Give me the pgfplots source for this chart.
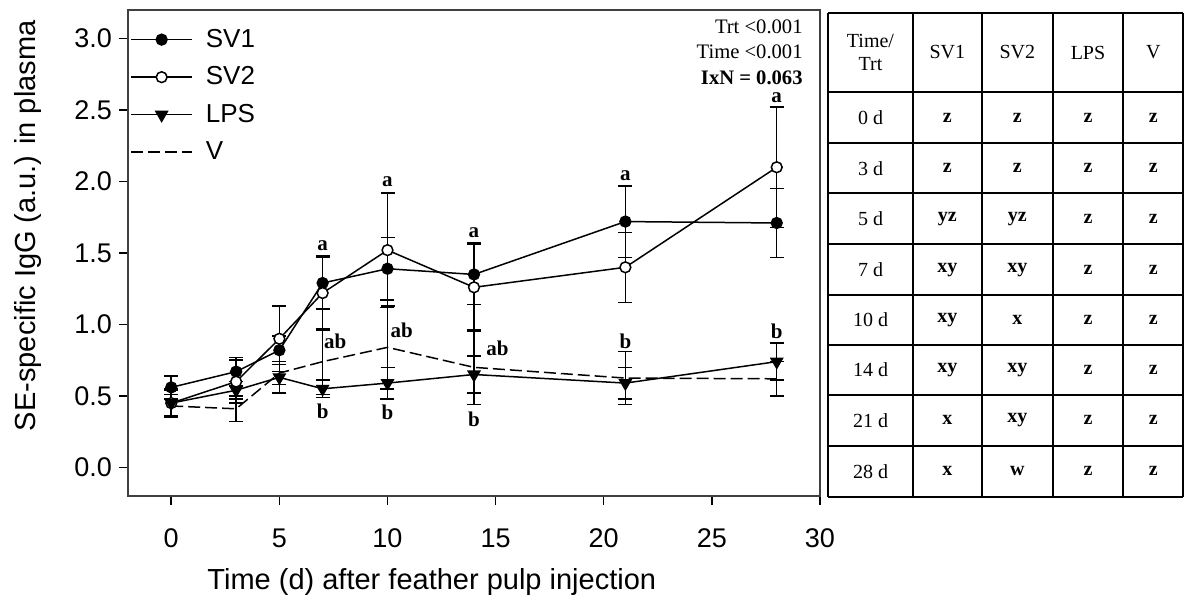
\documentclass[border=0pt]{standalone}
\usepackage{pgfplots}
\pgfplotsset{compat=1.18}
\usepackage{fontspec}
\setmainfont{Liberation Sans}
\newfontfamily\serif{Liberation Serif}
\begin{document}
\begin{tikzpicture}
\useasboundingbox (0,0) rectangle (592pt,-302.5pt);
\begin{axis}[
  at={(64pt,-248pt)}, anchor=south west,
  width=346pt, height=243pt, scale only axis,
  xmin=-2, xmax=30, ymin=-0.2, ymax=3.2,
  xtick={0,5,...,30}, ytick={0,0.5,...,3},
  tick align=outside, xtick pos=left, ytick pos=left,
  major tick length=4.5pt,
  tick style={line width=0.75pt, black},
  axis line style={line width=0.75pt, black!75},
  /pgf/number format/assume math mode=true,
  yticklabel style={/pgf/number format/.cd, fixed, fixed zerofill, precision=1, /tikz/.cd, font=\fontsize{13.5}{15}\selectfont},
  xticklabel style={font=\fontsize{13.5}{15}\selectfont, yshift=-8.5pt},
  xlabel={Time (d) after feather pulp injection},
  xlabel style={at={(axis description cs:0.439,-0.177)}, anchor=center, font=\fontsize{14.5}{16}\selectfont},
  ylabel={SE-specific IgG (a.u.) in plasma},
  ylabel style={at={(axis description cs:-0.1445,0.556)}, anchor=center, font=\fontsize{14.5}{16}\selectfont},
  legend style={at={(axis description cs:0.0,0.974)}, anchor=north west, draw=none, fill=none,
    font=\fontsize{13}{14}\selectfont, row sep=4.2pt, column sep=0.5pt, inner sep=1pt,
    nodes={inner xsep=6pt}},
  legend cell align=left,
  legend image code/.code={\draw[mark repeat=2,mark phase=2] plot coordinates {(0pt,0pt) (15.25pt,0pt) (30.5pt,0pt)};},
  every axis plot/.append style={line width=0.75pt, black},
  error bars/error bar style={line width=0.75pt, solid, black},
  error bars/error mark options={rotate=90, mark size=3.5pt, line width=0.75pt, solid, black},
]
\addplot[mark=*, mark size=2.7pt, mark options={solid, fill=black},
  error bars/.cd, y dir=both, y explicit] coordinates {
  (0,0.56) +- (0,0.08)
  (3,0.67) +- (0,0.10)
  (5,0.82) +- (0,0.10)
  (7,1.29) +- (0,0.18)
  (10,1.39) +- (0,0.22)
  (14,1.35) +- (0,0.21)
  (21,1.72) +- (0,0.25)
  (28,1.71) +- (0,0.24)
};
\addlegendentry{SV1}
\addplot[mark=*, mark size=2.7pt, mark options={solid, fill=white},
  error bars/.cd, y dir=both, y explicit] coordinates {
  (0,0.45) +- (0,0.10)
  (3,0.60) +- (0,0.15)
  (5,0.90) +- (0,0.23)
  (7,1.22) +- (0,0.26)
  (10,1.52) +- (0,0.40)
  (14,1.26) +- (0,0.31)
  (21,1.40) +- (0,0.245)
  (28,2.10) +- (0,0.42)
};
\addlegendentry{SV2}
\addplot[mark=triangle*, mark size=3.3pt, mark options={solid, fill=black, rotate=180},
  error bars/.cd, y dir=both, y explicit] coordinates {
  (0,0.45) +- (0,0.09)
  (3,0.54) +- (0,0.06)
  (5,0.63) +- (0,0.11)
  (7,0.55) +- (0,0.06)
  (10,0.59) +- (0,0.11)
  (14,0.65) +- (0,0.13)
  (21,0.59) +- (0,0.11)
  (28,0.74) +- (0,0.13)
};
\addlegendentry{LPS}
\addplot[dash pattern=on 6pt off 2.5pt,
  error bars/.cd, y dir=both, y explicit] coordinates {
  (0,0.43) +- (0,0.08)
  (3,0.41) +- (0,0.09)
  (5,0.66) +- (0,0.08)
  (7,0.74) +- (0,0.23)
  (10,0.84) +- (0,0.29)
  (14,0.70) +- (0,0.26)
  (21,0.625) +- (0,0.185)
  (28,0.62) +- (0,0.12)
};
\addlegendentry{V}
\node[anchor=north east, align=right, inner sep=0pt, font=\serif\fontsize{10.3}{12.8}\selectfont]
  at (axis description cs:0.9754,0.981) {Trt <0.001\\Time <0.001\\\textbf{IxN = 0.063}};
\tikzset{lab/.style={font=\serif\bfseries\fontsize{10.5}{11}\selectfont, inner sep=0pt}}
\node[lab] at (axis cs:7,1.55) {a};
\node[lab] at (axis cs:10,2.0) {a};
\node[lab] at (axis cs:14,1.64) {a};
\node[lab] at (axis cs:21,2.04) {a};
\node[lab] at (axis cs:28,2.585) {a};
\node[lab] at (axis cs:7,0.39) {b};
\node[lab] at (axis cs:10,0.385) {b};
\node[lab] at (axis cs:14,0.34) {b};
\node[lab] at (axis cs:21,0.88) {b};
\node[lab] at (axis cs:28,0.95) {b};
\node[lab] at (axis cs:7.58,0.88) {ab};
\node[lab] at (axis cs:10.66,0.962) {ab};
\node[lab] at (axis cs:15.08,0.834) {ab};
\end{axis}
\begin{scope}[x=0.5pt, y=-0.5pt]
  \foreach \xx in {828.3,912.7,982,1052.7,1123.3,1183.3}
    \draw[line width=1.1pt] (\xx,13.3) -- (\xx,496.7);
  \foreach \yy in {13.3,91.7,143.3,193.3,244.3,295,345,395,445.7,496.7}
    \draw[line width=1.1pt] (828.3,\yy) -- (1183.3,\yy);
  \tikzset{th/.style={font=\serif\fontsize{10}{11.5}\selectfont, align=center, inner sep=0pt},
           tb/.style={font=\serif\bfseries\fontsize{10}{11.5}\selectfont, inner sep=0pt}}
  \node[th] at (870.5,52.5) {Time/\\Trt};
  \node[th] at (947.3,52.5) {SV1};
  \node[th] at (1017.3,52.5) {SV2};
  \node[th] at (1088,52.5) {LPS};
  \node[th] at (1153.3,52.5) {V};
  \foreach \yy/\t/\a/\b/\c/\d in {117.5/0 d/z/z/z/z, 168.3/3 d/z/z/z/z, 218.8/5 d/yz/yz/z/z,
      269.7/7 d/xy/xy/z/z, 320/10 d/xy/x/z/z, 370/14 d/xy/xy/z/z, 420.3/21 d/x/xy/z/z, 471.2/28 d/x/w/z/z} {
    \node[th] at (870.5,\yy) {\t};
    \node[tb] at (947.3,\yy) {\a};
    \node[tb] at (1017.3,\yy) {\b};
    \node[tb] at (1088,\yy) {\c};
    \node[tb] at (1153.3,\yy) {\d};
  }
\end{scope}
\end{tikzpicture}
\end{document}
